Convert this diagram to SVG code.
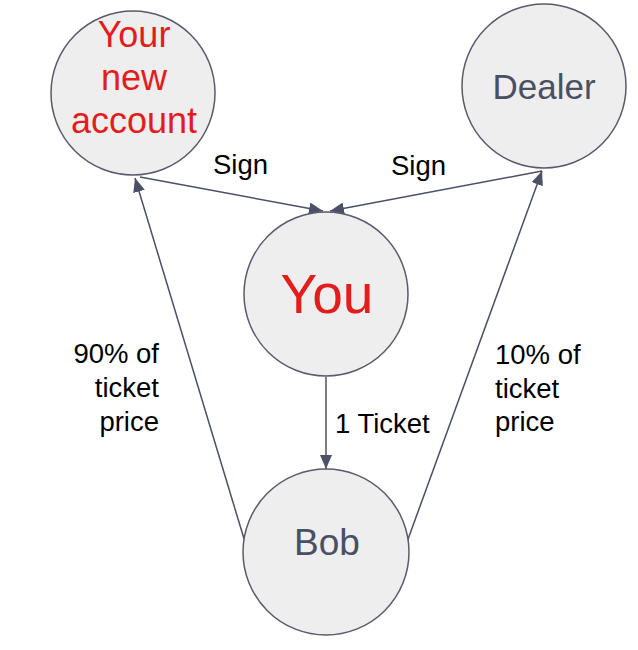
<svg xmlns="http://www.w3.org/2000/svg" width="638" height="650" viewBox="0 0 638 650">
<style>
.node{fill:#eeeeee;stroke:#595a6b;stroke-width:1.5}
.edge{stroke:#4b5066;stroke-width:1.5;fill:none;marker-end:url(#arr)}
.lbl{font-family:"Liberation Sans",Arial,sans-serif;font-size:27.5px;fill:#000}
.big{font-family:"Liberation Sans",Arial,sans-serif;text-anchor:middle}
</style>
<defs>
<marker id="arr" viewBox="0 0 14 12" refX="14" refY="6" markerWidth="14" markerHeight="12" markerUnits="userSpaceOnUse" orient="auto">
<path d="M0,0 L14,6 L0,12 z" fill="#4b5066"/>
</marker>
</defs>
<rect width="638" height="650" fill="#fff"/>
<g id="connectors">
<line class="edge" x1="140" y1="177" x2="323" y2="211"/>
<line class="edge" x1="542" y1="171" x2="330" y2="211"/>
<line class="edge" x1="326" y1="377" x2="326" y2="469"/>
<line class="edge" x1="245" y1="542" x2="135" y2="178"/>
<line class="edge" x1="407" y1="542" x2="542" y2="171"/>
<text class="lbl" x="213" y="174">Sign</text>
<text class="lbl" x="391" y="175">Sign</text>
<text class="lbl" x="335" y="433">1 Ticket</text>
<text class="lbl" text-anchor="end"><tspan x="159" y="363">90% of</tspan><tspan x="159" y="397">ticket</tspan><tspan x="159" y="431">price</tspan></text>
<text class="lbl"><tspan x="495" y="364">10% of</tspan><tspan x="495" y="398">ticket</tspan><tspan x="495" y="431">price</tspan></text>
</g>
<g id="account">
<circle class="node" cx="133" cy="93" r="82"/>
<text class="big" font-size="36" fill="#e31c1c"><tspan x="134" y="47">Your</tspan><tspan x="134" y="90">new</tspan><tspan x="134" y="133">account</tspan></text>
</g>
<g id="dealer">
<circle class="node" cx="544" cy="86" r="82"/>
<text class="big" x="544" y="99" font-size="35" fill="#4a4f63">Dealer</text>
</g>
<g id="you">
<circle class="node" cx="326" cy="294" r="82"/>
<text class="big" x="327" y="313" font-size="55" fill="#e31c1c">You</text>
</g>
<g id="bob">
<circle class="node" cx="326" cy="552" r="83"/>
<text class="big" x="327" y="555" font-size="37" fill="#4a4f63">Bob</text>
</g>
</svg>
